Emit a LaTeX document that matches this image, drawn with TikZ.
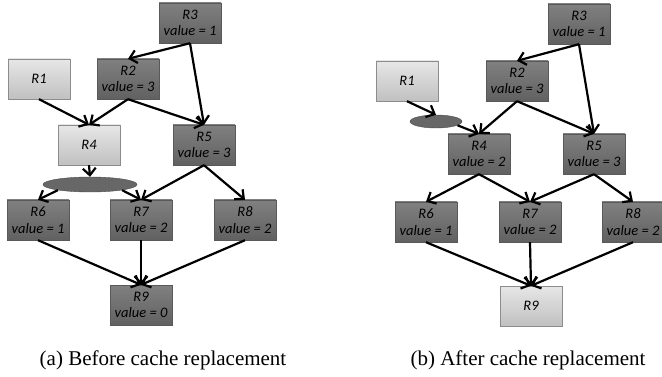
\documentclass[tikz,border=0pt]{standalone}
\usepackage{fontspec}
\setmainfont{Liberation Serif}
\newfontfamily\boxfont{Carlito}
\usetikzlibrary{arrows.meta,shapes.geometric}
\definecolor{darkbox}{HTML}{727272}
\definecolor{lightbox}{HTML}{D6D6D6}
\tikzset{
  res/.style={rectangle, minimum width=62pt, minimum height=40pt, inner sep=0pt,
    align=center, font=\boxfont\itshape\fontsize{14.5}{16.5}\selectfont},
  used/.style={res, draw=black!65, top color=darkbox!90!white, bottom color=darkbox!85!black},
  free/.style={res, draw=black!45, top color=lightbox!60!white, bottom color=lightbox!90!black},
  hole/.style={ellipse, draw=black!70, fill=darkbox!90!black, inner sep=0pt},
  dep/.style={-{Straight Barb[length=7pt,width=13pt]}, line width=2.2pt},
  caption/.style={font=\fontsize{21}{25}\selectfont}
}
\begin{document}
\begin{tikzpicture}[x=1pt,y=-1pt]
  \useasboundingbox (0,0) rectangle (662,377);
  % (a) before replacement
  \node[used] (aR3) at (190,23) {R3\\value = 1};
  \node[free] (aR1) at (39,79) {R1};
  \node[used] (aR2) at (128,79) {R2\\value = 3};
  \node[free] (aR4) at (89,145) {R4};
  \node[used] (aR5) at (204,145) {R5\\value = 3};
  \node[hole, minimum width=94pt, minimum height=15pt] (aE) at (90,184.5) {};
  \node[used] (aR6) at (38,220) {R6\\value = 1};
  \node[used] (aR7) at (141,220) {R7\\value = 2};
  \node[used] (aR8) at (245,220) {R8\\value = 2};
  \node[used] (aR9) at (141,305) {R9\\value = 0};
  \draw[dep] (aR3.south) -- (aR2.north);
  \draw[dep] (aR3.south) -- (aR5.north);
  \draw[dep] (aR1.south) -- (aR4.north);
  \draw[dep] (aR2.south) -- (aR4.north);
  \draw[dep] (aR2.south) -- (aR5.north);
  \draw[dep] (aR4.south) -- (aE.north);
  \draw[dep] (aE.190) -- (aR6.north);
  \draw[dep] (aE.-10) -- (aR7.north);
  \draw[dep] (aR5.south) -- (aR7.north);
  \draw[dep] (aR5.south) -- (aR8.north);
  \foreach \s in {aR6,aR7,aR8}
    \draw[dep] (\s.south) -- (aR9.north);
  \node[caption] (acap) at (163,360) {(a) Before cache replacement};
  % (b) after replacement
  \node[used] (bR3) at (579,24) {R3\\value = 1};
  \node[free] (bR1) at (407,81) {R1};
  \node[used] (bR2) at (517,81) {R2\\value = 3};
  \node[hole, minimum width=52pt, minimum height=13pt] (bE) at (436,121.5) {};
  \node[used] (bR4) at (479,154) {R4\\value = 2};
  \node[used] (bR5) at (594,154) {R5\\value = 3};
  \node[used] (bR6) at (426,222) {R6\\value = 1};
  \node[used] (bR7) at (530,222) {R7\\value = 2};
  \node[used] (bR8) at (633,222) {R8\\value = 2};
  \node[free] (bR9) at (531,306) {R9};
  \draw[dep] (bR3.south) -- (bR2.north);
  \draw[dep] (bR3.south) -- (bR5.north);
  \draw[dep] (bR1.south) -- (bE.north);
  \draw[dep] (bE.-10) -- (bR4.north);
  \draw[dep] (bR2.south) -- (bR4.north);
  \draw[dep] (bR2.south) -- (bR5.north);
  \draw[dep] (bR4.south) -- (bR6.north);
  \draw[dep] (bR4.south) -- (bR7.north);
  \draw[dep] (bR5.south) -- (bR7.north);
  \draw[dep] (bR5.south) -- (bR8.north);
  \foreach \s in {bR6,bR7,bR8}
    \draw[dep] (\s.south) -- (bR9.north);
  \node[caption] (bcap) at (528,360) {(b) After cache replacement};
\end{tikzpicture}
\end{document}
